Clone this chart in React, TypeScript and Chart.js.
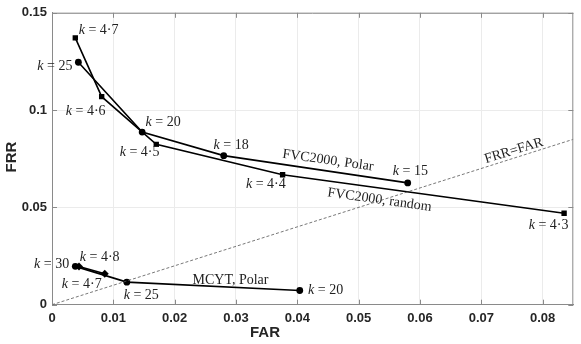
import React, { useEffect, useRef } from 'react';
import { Chart, registerables } from 'chart.js';
Chart.register(...registerables);

// ---- data ----
const fvcPolarFAR = [0.0043, 0.0147, 0.028, 0.058];
const fvcPolarFRR = [0.1246, 0.0887, 0.0766, 0.0626];
const fvcPolarK = ['25', '20', '18', '15'];

const fvcRandomFAR = [0.0038, 0.0081, 0.017, 0.0376, 0.0835];
const fvcRandomFRR = [0.1371, 0.1069, 0.0824, 0.0668, 0.047];
const fvcRandomK = ['4·7', '4·6', '4·5', '4·4', '4·3'];

const mcytPolarFAR = [0.0038, 0.0122, 0.0404];
const mcytPolarFRR = [0.0197, 0.0116, 0.0073];
const mcytPolarK = ['30', '25', '20'];

const mcytRandomFAR = [0.0044, 0.0086];
const mcytRandomFRR = [0.0196, 0.0159];
const mcytRandomK = ['4·8', '4·7'];

const diagFAR = [0, 0.085];
const diagFRR = [0, 0.085];

const xTicks = [0, 0.01, 0.02, 0.03, 0.04, 0.05, 0.06, 0.07, 0.08];
const xTickLabels = ['0', '0.01', '0.02', '0.03', '0.04', '0.05', '0.06', '0.07', '0.08'];
const yTicks = [0, 0.05, 0.1, 0.15];
const yTickLabels = ['0', '0.05', '0.1', '0.15'];

const curveNames = ['FVC2000, Polar', 'FVC2000, random', 'MCYT, Polar', 'FRR=FAR'];
const curveNameFAR = [0.045, 0.0534, 0.0291, 0.0753];
const curveNameFRR = [0.0741, 0.0538, 0.0125, 0.0791];

// ---- label layout (pixel offsets of text centre from its point) ----
const fvcPolarOff = [[-23.5, 4.4], [21, -10], [7.4, -10.6], [2.7, -11.7]];
const fvcRandomOff = [[23.3, -7.7], [-16, 14.4], [-16.7, 8.3], [-16.7, 10], [-15.5, 11.6]];
const mcytPolarOff = [[-23.7, -2.4], [14.4, 13.3], [25.8, 0]];
const mcytRandomOff = [[20.7, -9.3], [-23, 10.7]];
const curveNameRot = [8, 8, 0, -17];

const AXIS = '#8a8a8a';
const GRID = '#ebebeb';
const SERIF = '"Liberation Serif", "Times New Roman", serif';
const SANS = '"Liberation Sans", Arial, sans-serif';

function pts(xs: number[], ys: number[]) {
  return xs.map((x, i) => ({ x, y: ys[i] }));
}

function drawK(ctx: CanvasRenderingContext2D, cx: number, cy: number, val: string) {
  const italic = 'italic 14px ' + SERIF;
  const normal = '14px ' + SERIF;
  ctx.font = italic;
  const wk = ctx.measureText('k').width;
  ctx.font = normal;
  const rest = ' = ' + val;
  const wr = ctx.measureText(rest).width;
  const x0 = cx - (wk + wr) / 2;
  ctx.textAlign = 'left';
  ctx.textBaseline = 'middle';
  ctx.fillStyle = '#222';
  ctx.font = italic;
  ctx.fillText('k', x0, cy);
  ctx.font = normal;
  ctx.fillText(rest, x0 + wk, cy);
}

const overlay = {
  id: 'overlay',
  afterDraw(chart: any) {
    const ctx: CanvasRenderingContext2D = chart.ctx;
    const xs = chart.scales.x;
    const ys = chart.scales.y;
    const a = chart.chartArea;
    ctx.save();
    // box border
    ctx.strokeStyle = AXIS;
    ctx.lineWidth = 1;
    ctx.beginPath();
    ctx.moveTo(a.left, a.top + 0.5);
    ctx.lineTo(a.right, a.top + 0.5);
    ctx.moveTo(a.right - 0.5, a.top);
    ctx.lineTo(a.right - 0.5, a.bottom);
    ctx.stroke();
    // inside tick marks
    const tl = 5;
    ctx.beginPath();
    xTicks.forEach((v) => {
      const px = Math.round(xs.getPixelForValue(v)) + 0.5;
      ctx.moveTo(px, a.bottom);
      ctx.lineTo(px, a.bottom - tl);
      ctx.moveTo(px, a.top);
      ctx.lineTo(px, a.top + tl);
    });
    yTicks.forEach((v) => {
      const py = Math.round(ys.getPixelForValue(v)) + 0.5;
      ctx.moveTo(a.left, py);
      ctx.lineTo(a.left + tl, py);
      ctx.moveTo(a.right, py);
      ctx.lineTo(a.right - tl, py);
    });
    ctx.stroke();

    // k labels
    const groups: [number[], number[], string[], number[][]][] = [
      [fvcPolarFAR, fvcPolarFRR, fvcPolarK, fvcPolarOff],
      [fvcRandomFAR, fvcRandomFRR, fvcRandomK, fvcRandomOff],
      [mcytPolarFAR, mcytPolarFRR, mcytPolarK, mcytPolarOff],
      [mcytRandomFAR, mcytRandomFRR, mcytRandomK, mcytRandomOff],
    ];
    groups.forEach(([gx, gy, gk, go]) => {
      gx.forEach((v, i) => {
        const px = xs.getPixelForValue(v) + go[i][0];
        const py = ys.getPixelForValue(gy[i]) + go[i][1];
        drawK(ctx, px, py, gk[i]);
      });
    });

    // curve names
    curveNames.forEach((name, i) => {
      const px = xs.getPixelForValue(curveNameFAR[i]);
      const py = ys.getPixelForValue(curveNameFRR[i]);
      ctx.save();
      ctx.translate(px, py);
      ctx.rotate((curveNameRot[i] * Math.PI) / 180);
      ctx.font = '14px ' + SERIF;
      ctx.fillStyle = '#222';
      ctx.textAlign = 'center';
      ctx.textBaseline = 'middle';
      ctx.fillText(name, 0, 0);
      ctx.restore();
    });

    // axis titles
    ctx.fillStyle = '#262626';
    ctx.font = 'bold 15px ' + SANS;
    ctx.textAlign = 'center';
    ctx.textBaseline = 'middle';
    ctx.fillText('FAR', 265, 333);
    ctx.save();
    ctx.translate(12, 157);
    ctx.rotate(-Math.PI / 2);
    ctx.fillText('FRR', 0, 0);
    ctx.restore();
    ctx.restore();
  },
};

export default function App() {
  const ref = useRef<HTMLCanvasElement | null>(null);
  useEffect(() => {
    if (!ref.current) return;
    const line = (data: any, style: string, r: number) => ({
      data,
      borderColor: '#000',
      backgroundColor: '#000',
      borderWidth: 1.6,
      pointStyle: style,
      pointRadius: r,
      pointBorderWidth: 0,
      pointBackgroundColor: '#000',
      showLine: true,
      tension: 0,
    });
    const chart = new Chart(ref.current, {
      type: 'scatter',
      data: {
        datasets: [
          {
            data: pts(diagFAR, diagFRR),
            borderColor: '#555',
            borderWidth: 0.8,
            borderDash: [3, 2],
            pointRadius: 0,
            showLine: true,
          } as any,
          line(pts(fvcPolarFAR, fvcPolarFRR), 'circle', 3.4),
          line(pts(fvcRandomFAR, fvcRandomFRR), 'rect', 3.8),
          line(pts(mcytPolarFAR, mcytPolarFRR), 'circle', 3.4),
          line(pts(mcytRandomFAR, mcytRandomFRR), 'rectRot', 4),
        ],
      },
      options: {
        animation: false,
        responsive: false,
        maintainAspectRatio: false,
        layout: { padding: { top: 8.3, right: 7.7, left: 0, bottom: 0 } },
        plugins: { legend: { display: false }, tooltip: { enabled: false } },
        scales: {
          x: {
            type: 'linear',
            min: 0,
            max: 0.085,
            afterBuildTicks: (s: any) => {
              s.ticks = xTicks.map((v) => ({ value: v }));
            },
            afterFit: (s: any) => {
              s.height = 344 - 304.7;
            },
            ticks: {
              callback: (_v: any, i: number) => xTickLabels[i],
              font: { family: SANS, size: 13, weight: 'bold' },
              color: '#262626',
              padding: 6,
              maxRotation: 0,
              autoSkip: false,
            },
            grid: { color: GRID, lineWidth: 1, drawTicks: false },
            border: { color: AXIS, width: 1 },
          },
          y: {
            type: 'linear',
            min: 0,
            max: 0.15,
            afterBuildTicks: (s: any) => {
              s.ticks = yTicks.map((v) => ({ value: v }));
            },
            afterFit: (s: any) => {
              s.width = 52;
            },
            ticks: {
              callback: (_v: any, i: number) => yTickLabels[i],
              font: { family: SANS, size: 13, weight: 'bold' },
              color: '#262626',
              padding: 5,
              autoSkip: false,
            },
            grid: { color: GRID, lineWidth: 1, drawTicks: false },
            border: { color: AXIS, width: 1 },
          },
        },
      } as any,
      plugins: [overlay],
    });
    return () => chart.destroy();
  }, []);
  return (
    <div style={{ position: 'absolute', left: 0, top: 0, width: 581, height: 344 }}>
      <canvas ref={ref} width={581} height={344} />
    </div>
  );
}
